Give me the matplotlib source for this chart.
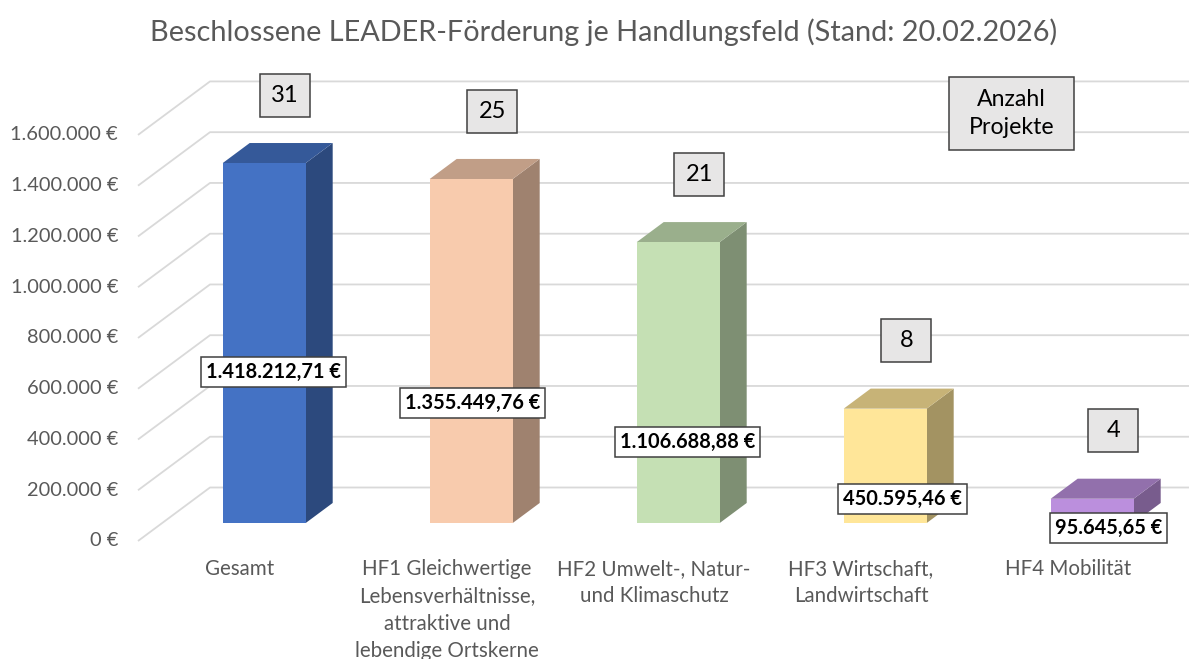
import matplotlib
matplotlib.use("Agg")
import matplotlib.pyplot as plt
from matplotlib.patches import Polygon, Rectangle
from matplotlib.transforms import IdentityTransform
import numpy as np

# ---------------- data ----------------
categories = [
    "Gesamt",
    "HF1 Gleichwertige\nLebensverhältnisse,\nattraktive und\nlebendige Ortskerne",
    "HF2 Umwelt-, Natur-\nund Klimaschutz",
    "HF3 Wirtschaft,\nLandwirtschaft",
    "HF4 Mobilität",
]
funding = [1418212.71, 1355449.76, 1106688.88, 450595.46, 95645.65]
projects = [31, 25, 21, 8, 4]
yticks = [0, 200000, 400000, 600000, 800000, 1000000, 1200000, 1400000, 1600000]
ytick_labels = ["0 €", "200.000 €", "400.000 €", "600.000 €", "800.000 €",
                "1.000.000 €", "1.200.000 €", "1.400.000 €", "1.600.000 €"]
title = "Beschlossene LEADER-Förderung je Handlungsfeld (Stand: 20.02.2026)"

# ---------------- style ----------------
front_colors = ["#4472C4", "#F8CBAD", "#C5E0B4", "#FFE699", "#BB8FDD"]
label_frac = [0.42, 0.35, 0.29, 0.21, -0.20]   # vertical position of value label (fraction of bar)
label_dx_px = [9, 1, 9, 17, 16]                 # horizontal shift of value label (px)

plt.rcParams['font.family'] = ['Lato', 'DejaVu Sans']
GRAY = "#595959"


def fmt_de(v):
    s = f"{v:,.2f}"
    return s.replace(",", "X").replace(".", ",").replace("X", ".") + " €"


def shade(hexcol, f):
    c = np.array(matplotlib.colors.to_rgb(hexcol)) * f
    return tuple(np.clip(c, 0, 1))


W_PX, H_PX = 1189, 659
fig = plt.figure(figsize=(W_PX / 100, H_PX / 100), dpi=100)
ax = fig.add_axes([0, 0, 1, 1])
ax.axis('off')

PX_X = 207.0        # pixels per category
K = 0.0002538       # pixels per euro
X0_PX = 240.0       # pixel x of category 0 (front plane)
Y0_PX = 541.0       # pixel y (from top) of value 0 (front plane)
ax.set_xlim(-X0_PX / PX_X, (W_PX - X0_PX) / PX_X)
ax.set_ylim(-(H_PX - Y0_PX) / K, Y0_PX / K)

DX = 72 / PX_X      # depth offset (full depth) in category units
DY = 53.5 / K       # depth offset (full depth) in value units
d0, d1 = 0.336, 0.711
BAR_W = 83 / PX_X
x_left = -102 / PX_X
x_right = (W_PX - X0_PX) / PX_X

# gridlines (floor slant + back wall)
for t, lab in zip(yticks, ytick_labels):
    ax.plot([x_left, x_left + DX, x_right], [t, t + DY, t + DY],
            color="#D9D9D9", lw=1.3, zorder=1, solid_capstyle='butt')
    ax.text(x_left - 20 / PX_X, t, lab, ha='right', va='center',
            fontsize=14.4, color=GRAY)

n = len(funding)
xs = np.arange(n)
fx = xs - BAR_W / 2 + d0 * DX
fb = d0 * DY
ddx = (d1 - d0) * DX
ddy = (d1 - d0) * DY

for i in range(n):
    v = funding[i]
    col = front_colors[i]
    side = [(fx[i] + BAR_W, fb), (fx[i] + BAR_W, fb + v),
            (fx[i] + BAR_W + ddx, fb + v + ddy), (fx[i] + BAR_W + ddx, fb + ddy)]
    ax.add_patch(Polygon(side, closed=True, fc=shade(col, 0.64), ec='none', zorder=3 + i))
    top = [(fx[i], fb + v), (fx[i] + BAR_W, fb + v),
           (fx[i] + BAR_W + ddx, fb + v + ddy), (fx[i] + ddx, fb + v + ddy)]
    ax.add_patch(Polygon(top, closed=True, fc=shade(col, 0.78), ec='none', zorder=3 + i))

ax.bar(fx, funding, width=BAR_W, bottom=fb, align='edge',
       color=front_colors, lw=0, zorder=10)

# category labels
for i, c in enumerate(categories):
    ax.text(xs[i], -(559 - Y0_PX) / K, c, ha='center', va='top',
            fontsize=14.8, color=GRAY, linespacing=1.46)

# value labels
for i in range(n):
    v = funding[i]
    ax.annotate(fmt_de(v), xy=(fx[i] + BAR_W / 2, fb + v * label_frac[i]),
                xytext=(label_dx_px[i], 0), textcoords='offset pixels',
                ha='center', va='center', fontsize=14.4, fontweight='bold', color='black',
                bbox=dict(boxstyle='square,pad=0.25', fc='white', ec='#404040', lw=1.1),
                zorder=20)

# project-count boxes (fixed size)
BOX_W, BOX_H = 50, 43
for i in range(n):
    v = funding[i]
    px, py = ax.transData.transform((fx[i] + BAR_W / 2, fb + v))
    cx, cy = px + 21, py + 68
    ax.add_patch(Rectangle((cx - BOX_W / 2, cy - BOX_H / 2), BOX_W, BOX_H,
                           transform=IdentityTransform(), fc="#E7E6E6",
                           ec="#404040", lw=1.1, zorder=20))
    ax.text(cx, cy, str(projects[i]), transform=IdentityTransform(),
            ha='center', va='center', fontsize=17, color='black', zorder=21)

# "Anzahl Projekte" box
ax.add_patch(Rectangle((949, H_PX - 150), 125, 73, transform=IdentityTransform(),
                       fc="#E7E6E6", ec="#404040", lw=1.1, zorder=20))
ax.text(1011.5, H_PX - 113.5, "Anzahl\nProjekte", transform=IdentityTransform(),
        ha='center', va='center', fontsize=16.7, color='black', linespacing=1.45, zorder=21)

# title
fig.text(604 / W_PX, 1 - 32 / H_PX, title, ha='center', va='center',
         fontsize=20.75, color=GRAY)

fig.savefig("out.png", dpi=100, facecolor='white')
